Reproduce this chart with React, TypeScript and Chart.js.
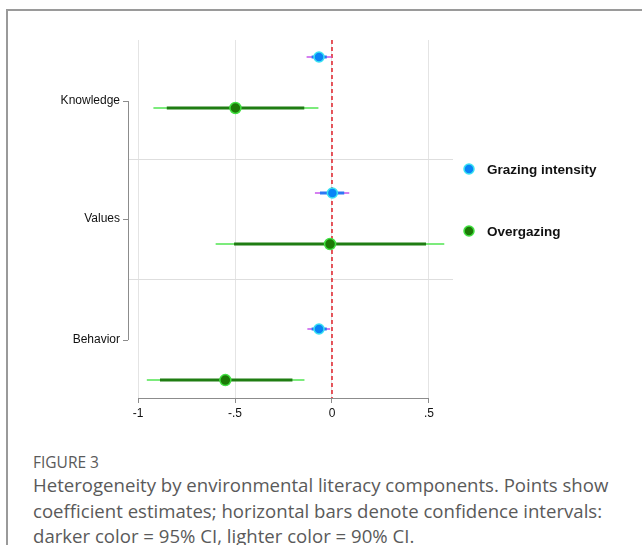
import React, { useEffect, useRef } from "react";
import { Chart, registerables } from "chart.js";

Chart.register(...registerables);

// ---------- data ----------
const categories = ["Knowledge", "Values", "Behavior"];
const seriesNames = ["Grazing intensity", "Overgazing"];

const grazingEst = [-0.067, 0.002, -0.067];
const grazingInnerLo = [-0.105, -0.062, -0.105];
const grazingInnerHi = [-0.027, 0.063, -0.027];
const grazingOuterLo = [-0.131, -0.088, -0.127];
const grazingOuterHi = [-0.002, 0.089, -0.01];

const overEst = [-0.498, -0.01, -0.55];
const overInnerLo = [-0.852, -0.505, -0.887];
const overInnerHi = [-0.143, 0.485, -0.204];
const overOuterLo = [-0.921, -0.6, -0.955];
const overOuterHi = [-0.07, 0.579, -0.142];

const xTicks = [-1, -0.5, 0, 0.5];
const xTickLabels = ["-1", "-.5", "0", ".5"];

// ---------- layout (not data) ----------
const rowPos = [0, 1, 2];
const seriesOffset = [0, 0.375];
const labelPos = [0.324, 1.191, 2.081];
const separatorPos = [0.752, 1.632];
const Y_MIN = -0.125;
const Y_MAX = 2.507;
const X_MIN = -1.052;
const X_MAX = 0.624;

const COL = {
  blueFill: "#0a84f6",
  blueBorder: "#3ae2f2",
  blueInner: "#2d78f4",
  blueOuter: "#c857ec",
  greenFill: "#1c7a06",
  greenBorder: "#42e042",
  greenInner: "#1f7d12",
  greenOuter: "#52e552",
};

const points = (est: number[], s: number) =>
  est.map((v, i) => ({ x: v, y: rowPos[i] + seriesOffset[s] }));

const segs = (lo: number[], hi: number[], s: number) => {
  const out: any[] = [];
  lo.forEach((l, i) => {
    const y = rowPos[i] + seriesOffset[s];
    out.push({ x: l, y });
    out.push({ x: hi[i], y });
    out.push({ x: null, y: null });
  });
  return out;
};

const decorPlugin = {
  id: "decor",
  beforeDatasetsDraw(chart: any) {
    const { ctx, chartArea: a, scales } = chart;
    const xs = scales.x;
    const ys = scales.y;
    ctx.save();
    // separators
    ctx.strokeStyle = "#dedede";
    ctx.lineWidth = 1;
    separatorPos.forEach((p) => {
      const y = Math.round(ys.getPixelForValue(p)) + 0.5;
      ctx.beginPath();
      ctx.moveTo(a.left, y);
      ctx.lineTo(a.right, y);
      ctx.stroke();
    });
    // zero reference line
    const x0 = xs.getPixelForValue(0);
    ctx.strokeStyle = "#e0202a";
    ctx.lineWidth = 1.5;
    ctx.setLineDash([4, 3]);
    ctx.beginPath();
    ctx.moveTo(x0, a.top);
    ctx.lineTo(x0, a.bottom);
    ctx.stroke();
    ctx.setLineDash([]);
    ctx.restore();
  },
  afterDraw(chart: any) {
    const { ctx, chartArea: a, scales } = chart;
    const xs = scales.x;
    const ys = scales.y;
    ctx.save();
    ctx.strokeStyle = "#8c8c8c";
    ctx.lineWidth = 1;
    // x axis line between first and last tick
    const yb = Math.round(a.bottom) + 0.5;
    ctx.beginPath();
    ctx.moveTo(xs.getPixelForValue(xTicks[0]), yb);
    ctx.lineTo(xs.getPixelForValue(xTicks[xTicks.length - 1]), yb);
    ctx.stroke();
    // y spine between first and last label
    const xl = Math.round(a.left) + 0.5;
    ctx.beginPath();
    ctx.moveTo(xl, ys.getPixelForValue(labelPos[0]));
    ctx.lineTo(xl, ys.getPixelForValue(labelPos[labelPos.length - 1]));
    ctx.stroke();

    // legend
    const legendY = [169, 231];
    const fills = [COL.blueFill, COL.greenFill];
    const borders = [COL.blueBorder, COL.greenBorder];
    seriesNames.forEach((name, i) => {
      const cx = a.right + 16;
      ctx.beginPath();
      ctx.arc(cx, legendY[i], 5, 0, Math.PI * 2);
      ctx.fillStyle = fills[i];
      ctx.fill();
      ctx.lineWidth = 1.5;
      ctx.strokeStyle = borders[i];
      ctx.stroke();
      ctx.fillStyle = "#111";
      ctx.font = "bold 13.5px 'Liberation Sans', Arial, sans-serif";
      ctx.textBaseline = "middle";
      ctx.textAlign = "left";
      ctx.fillText(name, a.right + 34, legendY[i] + 1);
    });
    ctx.restore();
  },
};

export default function App() {
  const ref = useRef<HTMLCanvasElement | null>(null);

  useEffect(() => {
    if (!ref.current) return;
    const chart = new Chart(ref.current, {
      type: "scatter",
      data: {
        datasets: [
          {
            label: seriesNames[0],
            data: points(grazingEst, 0),
            pointRadius: 5,
            pointHoverRadius: 5,
            backgroundColor: COL.blueFill,
            borderColor: COL.blueBorder,
            borderWidth: 1.5,
          },
          {
            label: seriesNames[1],
            data: points(overEst, 1),
            pointRadius: 5.5,
            pointHoverRadius: 5.5,
            backgroundColor: COL.greenFill,
            borderColor: COL.greenBorder,
            borderWidth: 1.5,
          },
          {
            type: "line",
            label: "g95",
            data: segs(grazingInnerLo, grazingInnerHi, 0),
            borderColor: COL.blueInner,
            borderWidth: 3,
            pointRadius: 0,
            spanGaps: false,
          },
          {
            type: "line",
            label: "o95",
            data: segs(overInnerLo, overInnerHi, 1),
            borderColor: COL.greenInner,
            borderWidth: 3,
            pointRadius: 0,
            spanGaps: false,
          },
          {
            type: "line",
            label: "g90",
            data: segs(grazingOuterLo, grazingOuterHi, 0),
            borderColor: COL.blueOuter,
            borderWidth: 1.5,
            pointRadius: 0,
            spanGaps: false,
          },
          {
            type: "line",
            label: "o90",
            data: segs(overOuterLo, overOuterHi, 1),
            borderColor: COL.greenOuter,
            borderWidth: 1.5,
            pointRadius: 0,
            spanGaps: false,
          },
        ] as any,
      },
      options: {
        animation: false,
        responsive: false,
        layout: { padding: { top: 40, right: 189, left: 0, bottom: 0 } },
        plugins: { legend: { display: false }, tooltip: { enabled: false } },
        scales: {
          x: {
            type: "linear",
            min: X_MIN,
            max: X_MAX,
            afterBuildTicks: (s: any) => {
              s.ticks = xTicks.map((v) => ({ value: v }));
            },
            afterFit: (s: any) => {
              s.height = 27;
            },
            ticks: {
              callback: (_v: any, i: number) => xTickLabels[i],
              color: "#111",
              font: { family: "'Liberation Sans', Arial, sans-serif", size: 12 },
              padding: 3,
              maxRotation: 0,
              autoSkip: false,
            },
            grid: {
              color: "#e4e4e4",
              tickColor: "#8c8c8c",
              tickLength: 5,
            },
            border: { display: false },
          },
          y: {
            type: "linear",
            reverse: true,
            min: Y_MIN,
            max: Y_MAX,
            afterBuildTicks: (s: any) => {
              s.ticks = labelPos.map((v) => ({ value: v }));
            },
            afterFit: (s: any) => {
              s.width = 128;
            },
            ticks: {
              callback: (_v: any, i: number) => categories[i],
              color: "#111",
              font: { family: "'Liberation Sans', Arial, sans-serif", size: 12 },
              padding: 3,
              autoSkip: false,
            },
            grid: {
              drawOnChartArea: false,
              tickColor: "#8c8c8c",
              tickLength: 5,
            },
            border: { display: false },
          },
        },
      },
      plugins: [decorPlugin],
    } as any);
    return () => chart.destroy();
  }, []);

  return (
    <div
      style={{
        position: "absolute",
        left: 0,
        top: 0,
        width: 642,
        height: 545,
        background: "#fff",
        overflow: "hidden",
      }}
    >
      <div
        style={{
          position: "absolute",
          left: 6,
          top: 9,
          width: 660,
          height: 560,
          borderLeft: "2px solid #9a9a9a",
          borderTop: "2px solid #9a9a9a",
        }}
      />
      <canvas
        ref={ref}
        width={642}
        height={425}
        style={{ position: "absolute", left: 0, top: 0, width: 642, height: 425 }}
      />
      <div
        style={{
          position: "absolute",
          left: 33,
          top: 452,
          fontFamily: "'Open Sans', sans-serif",
          fontSize: 15.5,
          lineHeight: "20px",
          color: "#5a5a5a",
        }}
      >
        FIGURE 3
      </div>
      <div
        style={{
          position: "absolute",
          left: 33,
          top: 472,
          width: 620,
          fontFamily: "'Open Sans', sans-serif",
          fontSize: 18.6,
          lineHeight: "25.5px",
          color: "#5a5a5a",
          whiteSpace: "nowrap",
        }}
      >
        Heterogeneity by environmental literacy components. Points show
        <br />
        coefficient estimates; horizontal bars denote confidence intervals:
        <br />
        darker color = 95% CI, lighter color = 90% CI.
      </div>
    </div>
  );
}
